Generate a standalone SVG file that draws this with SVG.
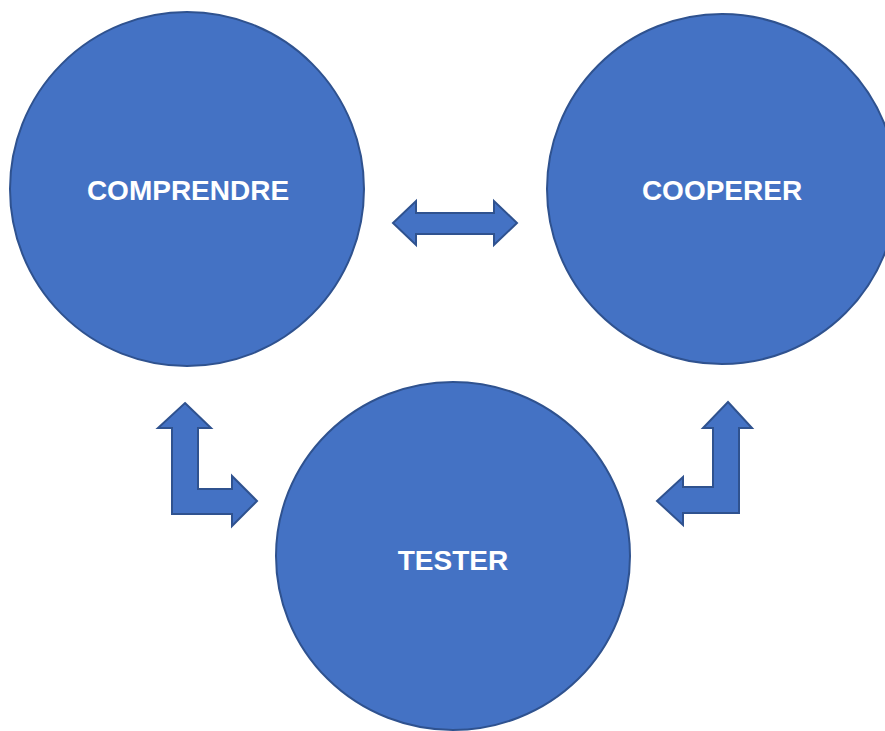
<svg xmlns="http://www.w3.org/2000/svg" width="885" height="731" viewBox="0 0 885 731">
<style>
.n{fill:#4472C4;stroke:#2F528F;stroke-width:2}
.t{fill:#fff;font-family:"Liberation Sans",Arial,sans-serif;font-weight:bold;font-size:28px;text-anchor:middle}
.a{fill:#4472C4;stroke:#2F528F;stroke-width:2;stroke-linejoin:miter}
</style>
<rect width="885" height="731" fill="#fff"/>
<g id="comprendre"><ellipse class="n" cx="187" cy="189" rx="177" ry="177"/><text class="t" x="188" y="200">COMPRENDRE</text></g>
<g id="cooperer"><ellipse class="n" cx="722" cy="189" rx="175" ry="175"/><text class="t" x="722" y="200">COOPERER</text></g>
<g id="tester"><ellipse class="n" cx="453" cy="556" rx="177" ry="174"/><text class="t" x="453" y="570">TESTER</text></g>
<g id="connectors">
<path class="a" d="M393,223 L416,201 L416,213 L494,213 L494,201 L517,223 L494,245 L494,234 L416,234 L416,245 Z"/>
<path class="a" d="M185,403 L211,428 L198,428 L198,489 L232,489 L232,476 L257,501 L232,526 L232,514 L172,514 L172,428 L158,428 Z"/>
<path class="a" d="M728,402 L752,428 L739,428 L739,513 L683,513 L683,525 L657,501 L683,477 L683,487 L713,487 L713,428 L703,428 Z"/>
</g>
</svg>
